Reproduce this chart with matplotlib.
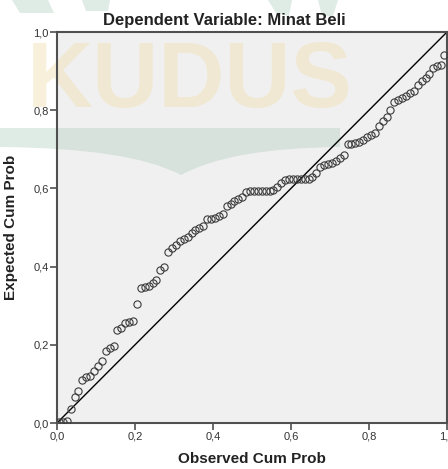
import numpy as np
import matplotlib as mpl
mpl.use('Agg')
import matplotlib.pyplot as plt
from matplotlib.ticker import FuncFormatter, FixedLocator
from matplotlib.path import Path
from matplotlib.patches import PathPatch, Polygon

mpl.rcParams.update({
    'font.family': ['Liberation Sans', 'DejaVu Sans'],
    'font.size': 8,
})

title = "Dependent Variable: Minat Beli"
xlabel = "Observed Cum Prob"
ylabel = "Expected Cum Prob"
ticks = [0.0, 0.2, 0.4, 0.6, 0.8, 1.0]

# observed cumulative probability (x)
observed = [
    0.005, 0.015, 0.025, 0.035, 0.045, 0.055, 0.065, 0.075, 0.085, 0.095,
    0.105, 0.115, 0.125, 0.135, 0.145, 0.155, 0.165, 0.175, 0.185, 0.195,
    0.205, 0.215, 0.225, 0.235, 0.245, 0.255, 0.265, 0.275, 0.285, 0.295,
    0.305, 0.315, 0.325, 0.335, 0.345, 0.355, 0.365, 0.375, 0.385, 0.395,
    0.405, 0.415, 0.425, 0.435, 0.445, 0.455, 0.465, 0.475, 0.485, 0.495,
    0.505, 0.515, 0.525, 0.535, 0.545, 0.555, 0.565, 0.575, 0.585, 0.595,
    0.605, 0.615, 0.625, 0.635, 0.645, 0.655, 0.665, 0.675, 0.685, 0.695,
    0.705, 0.715, 0.725, 0.735, 0.745, 0.755, 0.765, 0.775, 0.785, 0.795,
    0.805, 0.815, 0.825, 0.835, 0.845, 0.855, 0.865, 0.875, 0.885, 0.895,
    0.905, 0.915, 0.925, 0.935, 0.945, 0.955, 0.965, 0.975, 0.985, 0.992,
]

# expected cumulative probability (y)
expected = [
    0.003, 0.003, 0.005, 0.036, 0.066, 0.082, 0.110, 0.118, 0.120, 0.133,
    0.146, 0.159, 0.184, 0.192, 0.197, 0.238, 0.243, 0.256, 0.258, 0.261,
    0.304, 0.345, 0.348, 0.350, 0.358, 0.366, 0.391, 0.399, 0.437, 0.448,
    0.455, 0.465, 0.471, 0.476, 0.486, 0.494, 0.499, 0.504, 0.522, 0.522,
    0.524, 0.529, 0.535, 0.555, 0.560, 0.568, 0.573, 0.578, 0.591, 0.593,
    0.593, 0.593, 0.593, 0.593, 0.593, 0.596, 0.604, 0.614, 0.621, 0.624,
    0.624, 0.624, 0.624, 0.624, 0.624, 0.629, 0.639, 0.655, 0.660, 0.662,
    0.665, 0.670, 0.678, 0.685, 0.714, 0.714, 0.716, 0.719, 0.724, 0.731,
    0.737, 0.742, 0.760, 0.772, 0.783, 0.801, 0.821, 0.826, 0.831, 0.836,
    0.844, 0.849, 0.864, 0.875, 0.882, 0.893, 0.908, 0.913, 0.916, 0.941,
]

W, H = 448, 469
fig = plt.figure(figsize=(W / 100, H / 100), dpi=100)
ax = fig.add_axes([57/W, 46/H, 390/W, 391/H])
ax.set_facecolor('#f0f0f0')

# faint scan watermark (logo behind the chart), figure pixel coords
def fp(pts):
    return [(x / W, 1 - y / H) for x, y in pts]

green = '#b9d3c6'
book = Path(fp([(0, 128), (340, 128), (340, 147), (230, 148), (181, 175),
                (130, 148), (0, 147), (0, 128)]),
            [Path.MOVETO, Path.LINETO, Path.LINETO, Path.CURVE3, Path.CURVE3,
             Path.CURVE3, Path.CURVE3, Path.CLOSEPOLY])
ax.add_patch(PathPatch(book, transform=fig.transFigure, fc=green, ec='none',
                       alpha=0.45, zorder=0.5, clip_on=False))
for bar in [[(12, 0), (48, 0), (54, 13), (20, 13)],
            [(82, 0), (110, 0), (108, 11), (86, 11)],
            [(268, 0), (292, 0), (289, 16), (276, 13)],
            [(318, 0), (338, 0), (333, 16), (322, 16)]]:
    ax.add_patch(Polygon(fp(bar), closed=True, transform=fig.transFigure,
                         fc=green, ec='none', alpha=0.45, zorder=0.5,
                         clip_on=False))
ax.text(27/W, 1 - 107/H, "KUDUS", transform=fig.transFigure,
        fontsize=66, fontweight='bold', color='#f0dfae', alpha=0.45,
        ha='left', va='baseline', zorder=0.5, clip_on=False)

ax.plot([0, 1], [0, 1], color='black', lw=1.0, zorder=2)
ax.plot(observed, expected, 'o', ms=5.2, mfc='none', mec='#3c3c3c',
        mew=0.8, zorder=3)

ax.set_xlim(0, 1)
ax.set_ylim(0, 1)

comma = FuncFormatter(lambda v, pos: f"{v:.1f}".replace('.', ','))
ax.xaxis.set_major_locator(FixedLocator(ticks))
ax.yaxis.set_major_locator(FixedLocator(ticks))
ax.xaxis.set_major_formatter(comma)
ax.yaxis.set_major_formatter(comma)
ax.tick_params(direction='out', length=5, width=1.2, color='#505050',
               labelcolor='#333333', labelsize=8, pad=1)

for s in ax.spines.values():
    s.set_color('#505050')
    s.set_linewidth(1.5)

ax.set_xlabel(xlabel, fontsize=11, fontweight='bold', color='#222222',
              labelpad=8)
ax.set_ylabel(ylabel, fontsize=11, fontweight='bold', color='#222222',
              labelpad=11)
ax.set_title(title, fontsize=12, fontweight='bold', color='#222222',
             pad=5, x=(224 - 57) / 390)

fig.savefig('out.png', dpi=100)
